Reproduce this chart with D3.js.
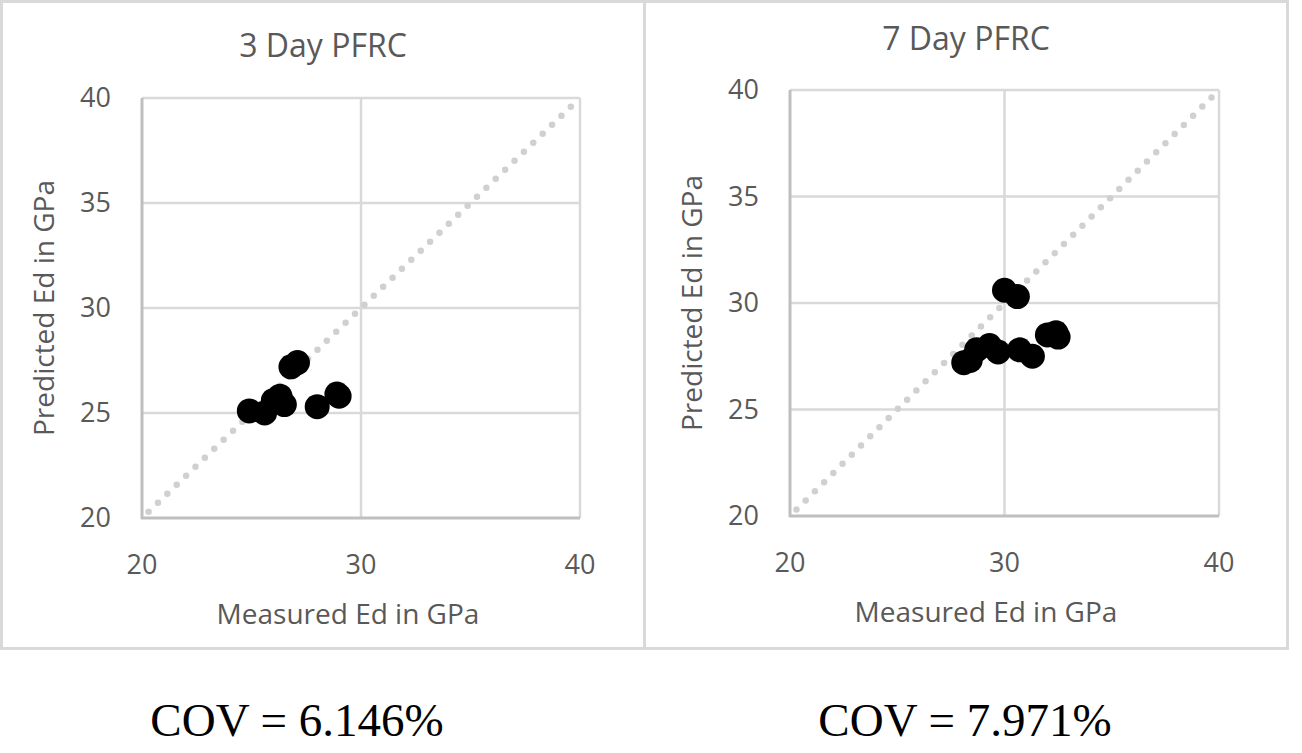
<!DOCTYPE html>
<html>
<head>
<meta charset="utf-8">
<script src="https://cdn.jsdelivr.net/npm/d3@7"></script>
<style>
  body { margin: 0; background: #fff; }
  svg { display: block; }
  text { font-family: "Open Sans", "Noto Sans", sans-serif; fill: #595959; }
  .cov { font-family: "Liberation Serif", "DejaVu Serif", serif; fill: #000; }
</style>
</head>
<body>
<svg id="chart" width="1302" height="753"></svg>
<script>
// Data (GPa)
const DAY3_MEASURED  = [24.9, 25.6, 26.0, 26.3, 26.5, 26.8, 27.1, 28.0, 28.9, 29.0];
const DAY3_PREDICTED = [25.1, 25.0, 25.6, 25.8, 25.4, 27.2, 27.4, 25.3, 25.9, 25.8];

const DAY7_MEASURED  = [28.1, 28.4, 28.7, 29.3, 29.7, 30.0, 30.6, 30.7, 31.3, 32.0, 32.4, 32.5];
const DAY7_PREDICTED = [27.2, 27.3, 27.8, 28.0, 27.7, 30.6, 30.3, 27.8, 27.5, 28.5, 28.6, 28.4];

const TICKS = [20, 25, 30, 35, 40];
const X_TICKS = [20, 30, 40];
const DOMAIN = [20, 40];

const panels = [
  { title: '3 Day PFRC', cov: 'COV = 6.146%', xs: DAY3_MEASURED, ys: DAY3_PREDICTED,
    left: 142, right: 580, top: 98, bottom: 518, cx: 323, titleY: 57, xTitleX: 348, covX: 297 },
  { title: '7 Day PFRC', cov: 'COV = 7.971%', xs: DAY7_MEASURED, ys: DAY7_PREDICTED,
    left: 790, right: 1219, top: 90, bottom: 516, cx: 966, titleY: 50, xTitleX: 986, covX: 965 }
];

const svg = d3.select('#chart');

// outer frame and divider
svg.append('rect')
  .attr('x', 1.5).attr('y', 1.5).attr('width', 1286).attr('height', 647)
  .attr('fill', 'none').attr('stroke', '#d9d9d9').attr('stroke-width', 3);
svg.append('line')
  .attr('x1', 644.5).attr('x2', 644.5).attr('y1', 0).attr('y2', 649)
  .attr('stroke', '#d9d9d9').attr('stroke-width', 3);

panels.forEach(p => {
  const x = d3.scaleLinear().domain(DOMAIN).range([p.left, p.right]);
  const y = d3.scaleLinear().domain(DOMAIN).range([p.bottom, p.top]);
  const g = svg.append('g');

  // gridlines
  g.selectAll('.hgrid')
    .data(TICKS.slice(1))
    .join('line')
    .attr('x1', p.left).attr('x2', p.right)
    .attr('y1', d => y(d)).attr('y2', d => y(d))
    .attr('stroke', '#d9d9d9').attr('stroke-width', 2.5);
  g.selectAll('.vgrid')
    .data(X_TICKS.slice(1))
    .join('line')
    .attr('x1', d => x(d)).attr('x2', d => x(d))
    .attr('y1', p.top).attr('y2', p.bottom)
    .attr('stroke', '#d9d9d9').attr('stroke-width', 2.5);

  // axis lines
  g.append('line')
    .attr('x1', p.left).attr('x2', p.left).attr('y1', p.top).attr('y2', p.bottom + 1)
    .attr('stroke', '#bfbfbf').attr('stroke-width', 3);
  g.append('line')
    .attr('x1', p.left - 1).attr('x2', p.right).attr('y1', p.bottom).attr('y2', p.bottom)
    .attr('stroke', '#bfbfbf').attr('stroke-width', 3);

  // tick labels
  g.selectAll('.ytick')
    .data(TICKS)
    .join('text')
    .attr('x', p.left - 31)
    .attr('y', d => y(d) + 9)
    .attr('text-anchor', 'end')
    .attr('font-size', 27)
    .text(d => d);
  g.selectAll('.xtick')
    .data(X_TICKS)
    .join('text')
    .attr('x', d => x(d))
    .attr('y', p.bottom + 56)
    .attr('text-anchor', 'middle')
    .attr('font-size', 27)
    .text(d => d);

  // 1:1 dotted line
  g.append('line')
    .attr('x1', x(20.3)).attr('y1', y(20.3))
    .attr('x2', x(39.7)).attr('y2', y(39.7))
    .attr('stroke', '#d0d0d0').attr('stroke-width', 6.5)
    .attr('stroke-linecap', 'round')
    .attr('stroke-dasharray', '0 13');

  // points
  g.selectAll('.pt')
    .data(p.xs.map((v, i) => [v, p.ys[i]]))
    .join('circle')
    .attr('cx', d => x(d[0]))
    .attr('cy', d => y(d[1]))
    .attr('r', 12.5)
    .attr('fill', '#000');

  // titles
  g.append('text')
    .attr('x', p.cx).attr('y', p.titleY)
    .attr('text-anchor', 'middle')
    .attr('font-size', 32)
    .text(p.title);
  g.append('text')
    .attr('x', p.xTitleX).attr('y', p.bottom + 106)
    .attr('text-anchor', 'middle')
    .attr('font-size', 28)
    .text('Measured Ed in GPa');
  g.append('text')
    .attr('transform', `translate(${p.left - 88},${(p.top + p.bottom) / 2}) rotate(-90)`)
    .attr('text-anchor', 'middle')
    .attr('font-size', 28)
    .text('Predicted Ed in GPa');

  // COV caption
  svg.append('text')
    .attr('class', 'cov')
    .attr('x', p.covX).attr('y', 736)
    .attr('text-anchor', 'middle')
    .attr('font-size', 47)
    .text(p.cov);
});
</script>
</body>
</html>
